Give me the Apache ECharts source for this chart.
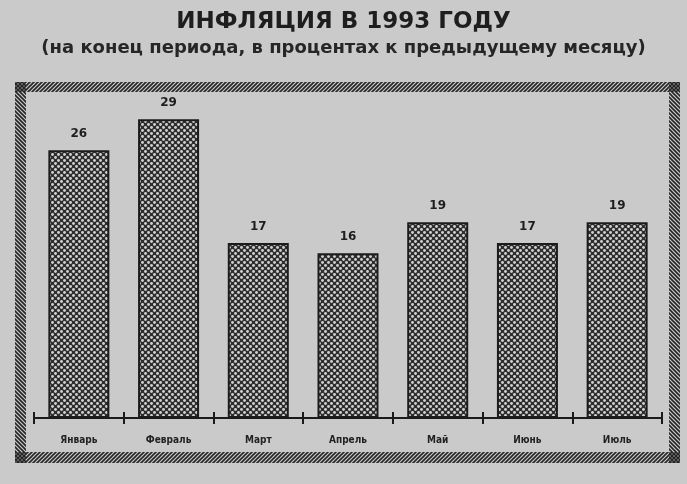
<!DOCTYPE html>
<html>
<head>
<meta charset="utf-8">
<script src="https://cdn.jsdelivr.net/npm/echarts@6/dist/echarts.min.js"></script>
<style>
  html, body { margin: 0; padding: 0; background: #cacaca; }
  #chart { width: 687px; height: 484px; }
</style>
</head>
<body>
<div id="chart"></div>
<script>
const months = ["Январь", "Февраль", "Март", "Апрель", "Май", "Июнь", "Июль"];
const inflation = [26, 29, 17, 16, 19, 17, 19];

// small canvas patterns: dotted bar fill and hatched frame
function dotPattern() {
  const c = document.createElement("canvas");
  c.width = 6; c.height = 6;
  const ctx = c.getContext("2d");
  ctx.fillStyle = "#2e2e2e";
  ctx.fillRect(0, 0, 6, 6);
  ctx.fillStyle = "#d2d2d2";
  [[1.5, 1.5], [4.5, 4.5]].forEach(function (p) {
    ctx.beginPath();
    ctx.arc(p[0], p[1], 1.45, 0, Math.PI * 2);
    ctx.fill();
  });
  return c;
}

function hatchPattern(flip) {
  const c = document.createElement("canvas");
  c.width = 4; c.height = 4;
  const ctx = c.getContext("2d");
  ctx.strokeStyle = "#262626";
  ctx.lineWidth = 1.6;
  const segs = flip
    ? [[0, 0, 4, 4], [-1, 3, 1, 5], [3, -1, 5, 1]]
    : [[0, 4, 4, 0], [-1, 1, 1, -1], [3, 5, 5, 3]];
  segs.forEach(function (s) {
    ctx.beginPath();
    ctx.moveTo(s[0], s[1]);
    ctx.lineTo(s[2], s[3]);
    ctx.stroke();
  });
  return c;
}

const dots = { image: dotPattern(), repeat: "repeat" };
const hatchA = { image: hatchPattern(false), repeat: "repeat" };
const hatchB = { image: hatchPattern(true), repeat: "repeat" };

const chart = echarts.init(document.getElementById("chart"));

const option = {
  backgroundColor: "#cacaca",
  animation: false,
  title: [
    {
      text: "ИНФЛЯЦИЯ В 1993 ГОДУ",
      left: "center",
      top: 6,
      textStyle: { fontFamily: "DejaVu Sans", fontSize: 23, fontWeight: "bold", color: "#1e1e1e" }
    },
    {
      text: "(на конец периода, в процентах к предыдущему месяцу)",
      left: "center",
      top: 34,
      textStyle: { fontFamily: "DejaVu Sans", fontSize: 18, fontWeight: "bold", color: "#262626" }
    }
  ],
  grid: { left: 34, right: 25, top: 109, bottom: 66 },
  xAxis: [
    {
      type: "category",
      data: months,
      axisLine: { lineStyle: { color: "#1a1a1a", width: 2 } },
      axisTick: { show: true, length: 6, lineStyle: { color: "#1a1a1a", width: 2 } },
      axisLabel: { margin: 17, fontFamily: "DejaVu Sans Condensed", fontSize: 10, fontWeight: "bold", color: "#222" }
    },
    {
      type: "category",
      data: months,
      position: "bottom",
      axisLine: { show: false },
      axisTick: { show: true, inside: true, length: 6, lineStyle: { color: "#1a1a1a", width: 2 } },
      axisLabel: { show: false }
    }
  ],
  yAxis: {
    type: "value",
    min: 0,
    max: 30,
    show: false
  },
  series: [
    {
      type: "bar",
      data: inflation,
      barCategoryGap: "32%",
      itemStyle: { color: dots, borderColor: "#1c1c1c", borderWidth: 2 },
      label: {
        show: true,
        position: "top",
        distance: 10,
        fontFamily: "DejaVu Sans",
        fontSize: 12,
        fontWeight: "bold",
        color: "#1e1e1e"
      }
    }
  ],
  graphic: [
    { type: "rect", shape: { x: 15, y: 82, width: 665, height: 10 }, style: { fill: hatchA } },
    { type: "rect", shape: { x: 15, y: 452, width: 665, height: 11 }, style: { fill: hatchA } },
    { type: "rect", shape: { x: 15, y: 82, width: 11, height: 381 }, style: { fill: hatchB } },
    { type: "rect", shape: { x: 669, y: 82, width: 11, height: 381 }, style: { fill: hatchB } }
  ]
};

chart.setOption(option);
</script>
</body>
</html>
